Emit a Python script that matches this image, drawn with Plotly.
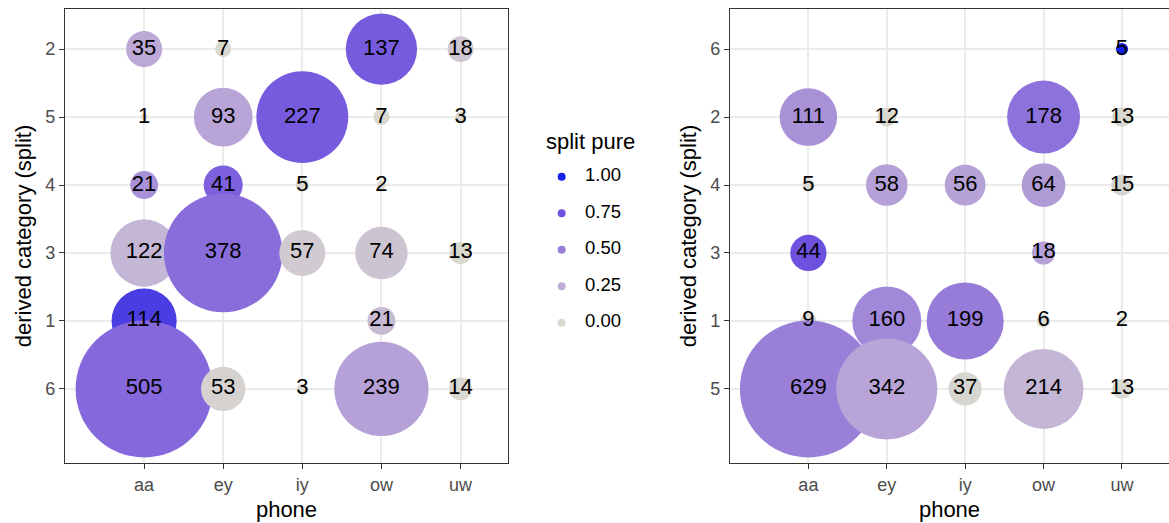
import plotly.graph_objects as go
import numpy as np

# ---- data -------------------------------------------------------------
phones = ["aa", "ey", "iy", "ow", "uw"]

# left panel: derived categories (bottom -> top) and cells, drawn top row first
left_levels = ["6", "1", "3", "4", "5", "2"]
left_phone = ["aa", "ey", "ow", "uw",
              "aa", "ey", "iy", "ow", "uw",
              "aa", "ey", "iy", "ow",
              "aa", "ey", "iy", "ow", "uw",
              "aa", "ow",
              "aa", "ey", "iy", "ow", "uw"]
left_cat = ["2", "2", "2", "2",
            "5", "5", "5", "5", "5",
            "4", "4", "4", "4",
            "3", "3", "3", "3", "3",
            "1", "1",
            "6", "6", "6", "6", "6"]
left_count = [35, 7, 137, 18,
              1, 93, 227, 7, 3,
              21, 41, 5, 2,
              122, 378, 57, 74, 13,
              114, 21,
              505, 53, 3, 239, 14]
left_pure = [0.27, 0.0, 0.70, 0.10,
             0.0, 0.30, 0.70, 0.0, 0.0,
             0.40, 0.67, 0.0, 0.0,
             0.20, 0.60, 0.08, 0.12, 0.0,
             0.85, 0.17,
             0.62, 0.04, 0.0, 0.32, 0.0]

# right panel
right_levels = ["5", "1", "3", "4", "2", "6"]
right_phone = ["uw",
               "aa", "ey", "ow", "uw",
               "aa", "ey", "iy", "ow", "uw",
               "aa", "ow",
               "aa", "ey", "iy", "ow", "uw",
               "aa", "ey", "iy", "ow", "uw"]
right_cat = ["6",
             "2", "2", "2", "2",
             "4", "4", "4", "4", "4",
             "3", "3",
             "1", "1", "1", "1", "1",
             "5", "5", "5", "5", "5"]
right_count = [5,
               111, 12, 178, 13,
               5, 58, 56, 64, 15,
               44, 18,
               9, 160, 199, 6, 2,
               629, 342, 37, 214, 13]
right_pure = [1.0,
              0.40, 0.0, 0.57, 0.0,
              0.0, 0.32, 0.31, 0.35, 0.03,
              0.75, 0.32,
              0.0, 0.45, 0.52, 0.0, 0.0,
              0.50, 0.30, 0.02, 0.20, 0.0]

legend_breaks = [1.00, 0.75, 0.50, 0.25, 0.00]

# grey -> blue ramp for "split pure"
colorscale = [
    [0.00, "#D9D9CF"],
    [0.25, "#BFADD6"],
    [0.50, "#9A7FD9"],
    [0.75, "#6E52DF"],
    [1.00, "#1420E6"],
]

FONT = "Liberation Sans, Arial, sans-serif"
MAX_DIAM = 137


def diameters(counts):
    c = np.asarray(counts, dtype=float)
    return MAX_DIAM * np.sqrt(c / c.max())


fig = go.Figure()

for xa, ya, ph, cat, cnt, pure in [
    ("x", "y", left_phone, left_cat, left_count, left_pure),
    ("x2", "y2", right_phone, right_cat, right_count, right_pure),
]:
    fig.add_trace(go.Scatter(
        x=ph, y=cat, mode="markers", xaxis=xa, yaxis=ya, showlegend=False,
        hoverinfo="skip",
        marker=dict(size=diameters(cnt), sizemode="diameter", color=pure,
                    colorscale=colorscale, cmin=0, cmax=1, opacity=1,
                    line=dict(width=0)),
    ))
    fig.add_trace(go.Scatter(
        x=ph, y=cat, mode="text", xaxis=xa, yaxis=ya, showlegend=False,
        text=[str(c) for c in cnt], textposition="middle center",
        textfont=dict(family=FONT, size=22, color="black"), hoverinfo="skip",
    ))

# colour legend keys on their own small axis
fig.add_trace(go.Scatter(
    x=[0] * len(legend_breaks), y=legend_breaks, mode="markers",
    xaxis="x3", yaxis="y3", showlegend=False, cliponaxis=False,
    marker=dict(size=8, color=legend_breaks, colorscale=colorscale,
                cmin=0, cmax=1, line=dict(width=0)),
))
fig.add_trace(go.Scatter(
    x=[1] * len(legend_breaks), y=legend_breaks, mode="text",
    xaxis="x3", yaxis="y3", showlegend=False, cliponaxis=False,
    text=[f"{v:.2f}" for v in legend_breaks], textposition="middle right",
    textfont=dict(family=FONT, size=18.5, color="black"),
))

W, H = 1169, 523


def px_x(a, b):
    return [a / W, b / W]


def px_y(top, bottom):
    return [(H - bottom) / H, (H - top) / H]


common_axis = dict(
    type="category", showgrid=True, gridcolor="#EBEBEB", gridwidth=1.6,
    showline=True, mirror=True, linecolor="#333333", linewidth=1.4,
    ticks="outside", ticklen=5, tickwidth=1.4, tickcolor="#333333",
    tickfont=dict(family=FONT, size=18, color="#4D4D4D"),
    zeroline=False, automargin=False, fixedrange=True,
)

x_common = dict(common_axis, categoryorder="array", categoryarray=phones,
                range=[-1.0, 4.6],
                title=dict(text="phone", font=dict(family=FONT, size=22, color="black"),
                           standoff=7))


def y_axis(levels, anchor, domain, mirror=True):
    return dict(common_axis, categoryorder="array", categoryarray=levels,
                range=[-1.09, 5.59], anchor=anchor, domain=domain, mirror=mirror,
                title=dict(text="derived category (split)",
                           font=dict(family=FONT, size=22, color="black"),
                           standoff=7))


ydom = px_y(9, 463)
fig.update_layout(
    width=W, height=H,
    margin=dict(l=0, r=0, t=0, b=0),
    paper_bgcolor="white", plot_bgcolor="white",
    font=dict(family=FONT),
    xaxis=dict(x_common, domain=px_x(65, 508), anchor="y"),
    yaxis=y_axis(left_levels, "x", ydom),
    xaxis2=dict(x_common, domain=px_x(730, 1169), anchor="y2"),
    yaxis2=y_axis(right_levels, "x2", ydom, mirror=False),
    xaxis3=dict(domain=px_x(557, 585), range=[-0.2, 1], anchor="y3",
                visible=False, fixedrange=True),
    yaxis3=dict(domain=px_y(176.7, 322.7), range=[0, 1], anchor="x3",
                visible=False, fixedrange=True),
    annotations=[dict(text="split pure", xref="paper", yref="paper",
                      x=544 / W, y=(H - 141) / H, xanchor="left", yanchor="middle",
                      showarrow=False,
                      font=dict(family=FONT, size=22, color="black"))],
)

fig.write_html("out.html")
